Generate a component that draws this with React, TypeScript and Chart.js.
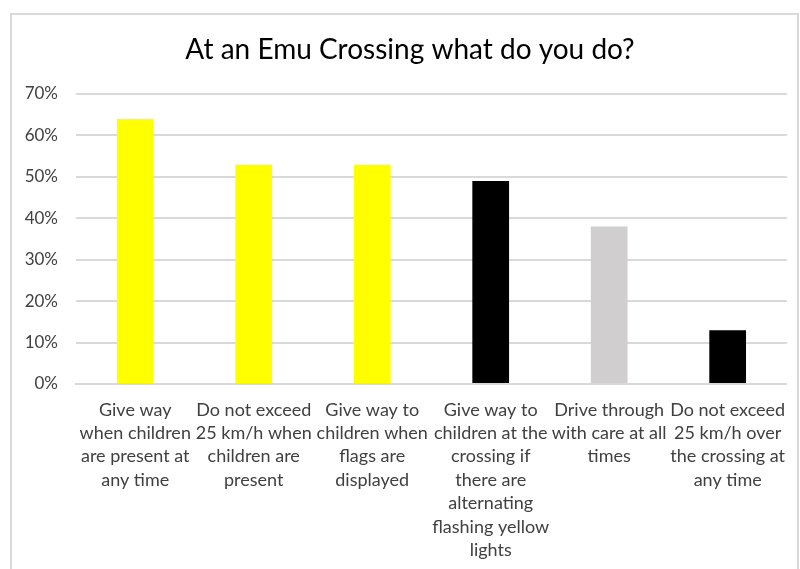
import React, { useEffect, useRef } from "react";
import { Chart, registerables } from "chart.js";

Chart.register(...registerables);

const TITLE = "At an Emu Crossing what do you do?";
const CATEGORIES: string[][] = [
  ["Give way", "when children", "are present at", "any time"],
  ["Do not exceed", "25 km/h when", "children are", "present"],
  ["Give way to", "children when", "flags are", "displayed"],
  ["Give way to", "children at the", "crossing if", "there are", "alternating", "flashing yellow", "lights"],
  ["Drive through", "with care at all", "times"],
  ["Do not exceed", "25 km/h over", "the crossing at", "any time"],
];
const VALUES = [64, 53, 53, 49, 38, 13];
const BAR_COLORS = ["#FFFF00", "#FFFF00", "#FFFF00", "#000000", "#D0CECE", "#000000"];
const Y_MIN = 0;
const Y_MAX = 70;
const Y_STEP = 10;

const FONT = "Lato, 'Open Sans', sans-serif";

const titlePlugin = {
  id: "customTitle",
  afterDraw(chart: any) {
    const ctx = chart.ctx;
    ctx.save();
    ctx.font = `normal 28px ${FONT}`;
    ctx.fillStyle = "#000000";
    ctx.textAlign = "center";
    ctx.textBaseline = "middle";
    ctx.fillText(TITLE, 410, 50);
    ctx.restore();
  },
};

export default function App() {
  const ref = useRef<HTMLCanvasElement | null>(null);

  useEffect(() => {
    if (!ref.current) return;
    const chart = new Chart(ref.current, {
      type: "bar",
      data: {
        labels: CATEGORIES,
        datasets: [
          {
            data: VALUES,
            backgroundColor: BAR_COLORS,
            borderWidth: 0,
            categoryPercentage: 1,
            barPercentage: 0.31,
          },
        ],
      },
      options: {
        responsive: false,
        animation: false,
        layout: { padding: { left: 0, right: 10, top: 94, bottom: 0 } },
        plugins: {
          legend: { display: false },
          tooltip: { enabled: false },
          title: { display: false },
        },
        scales: {
          x: {
            grid: { display: false, drawTicks: false },
            border: { display: true, color: "#D9D9D9", width: 2 },
            ticks: {
              color: "#404040",
              font: { family: FONT, size: 18, lineHeight: 1.3 },
              autoSkip: false,
              maxRotation: 0,
              minRotation: 0,
              padding: 14,
            },
            afterFit: (scale: any) => {
              scale.height = 185;
            },
          },
          y: {
            min: Y_MIN,
            max: Y_MAX,
            grid: { color: "#D9D9D9", lineWidth: 2, drawTicks: false },
            border: { display: false },
            ticks: {
              stepSize: Y_STEP,
              color: "#404040",
              font: { family: FONT, size: 17 },
              padding: 18,
              callback: (v: any) => v + "%",
            },
            afterFit: (scale: any) => {
              scale.width = 76;
            },
          },
        },
      },
      plugins: [titlePlugin],
    });
    return () => chart.destroy();
  }, []);

  return (
    <div style={{ position: "absolute", left: 0, top: 0, width: 800, height: 569, overflow: "hidden", background: "#fff" }}>
      <div
        style={{
          position: "absolute",
          left: 10,
          top: 13,
          width: 785,
          height: 556,
          borderTop: "2px solid #D9D9D9",
          borderLeft: "2px solid #D9D9D9",
          borderRight: "2px solid #D9D9D9",
        }}
      />
      <canvas ref={ref} width={800} height={569} style={{ position: "absolute", left: 0, top: 0 }} />
    </div>
  );
}
